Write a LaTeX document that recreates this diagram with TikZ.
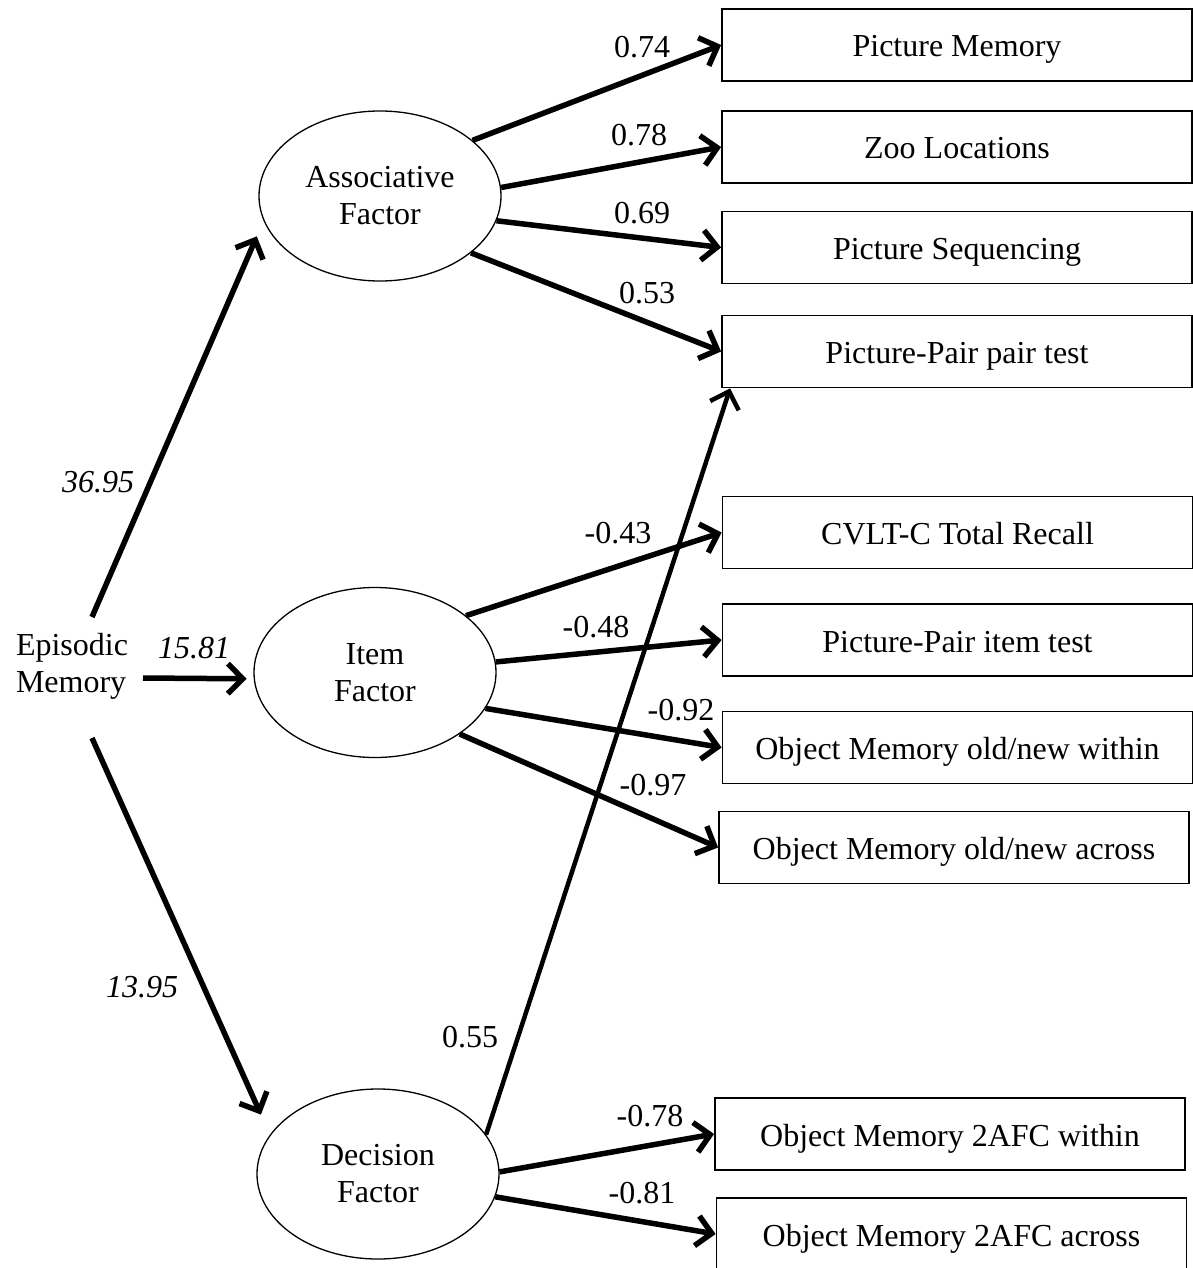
\documentclass[tikz,border=0pt]{standalone}
\usepackage{fontspec}
\setmainfont{Liberation Serif}
\usetikzlibrary{shapes.geometric,arrows.meta}
\begin{document}
\begin{tikzpicture}[x=1pt,y=-1pt,
  fnt/.style={font=\fontsize{32}{37}\selectfont},
  txt/.style={fnt, inner sep=0pt, align=left},
  box/.style={draw, line width=1.8pt, minimum width=470pt, minimum height=72pt, inner sep=0pt, fnt, text height=24pt, text depth=0pt},
  fac/.style={draw, ellipse, line width=1.3pt, minimum width=242pt, minimum height=170pt, inner sep=0pt, align=center, fnt},
  arr/.style={line width=5.5pt, -{Straight Barb[length=15pt,width=30pt]}},
  lab/.style={fnt, inner sep=0pt},
  ilab/.style={inner sep=0pt, font=\fontsize{32}{37}\selectfont\itshape}]
\useasboundingbox (0,0) rectangle (1193,1268);

% observed variables
\node[box] (pm)     at (957,45)     {Picture Memory};
\node[box] (zoo)    at (957,147)    {Zoo Locations};
\node[box] (seq)    at (957,247.5)  {Picture Sequencing};
\node[box] (pppair) at (957,351.5)  {Picture-Pair pair test};
\node[box] (cvlt)   at (957.5,532.5){CVLT-C Total Recall};
\node[box] (ppitem) at (957.5,640)  {Picture-Pair item test};
\node[box] (omw)    at (957.5,747.5){Object Memory old/new within};
\node[box] (oma)    at (954,847.5)  {Object Memory old/new across};
\node[box] (afw)    at (950,1134)   {Object Memory 2AFC within};
\node[box] (afa)    at (951.5,1234) {Object Memory 2AFC across};

% latent factors
\node[fac] (assoc) at (380,196)   {Associative\\Factor};
\node[fac] (item)  at (375,672.5) {Item\\Factor};
\node[fac] (dec)   at (378,1174)  {Decision\\Factor};

% second-order factor
\node[txt] (em) at (72,666) {Episodic\\Memory};

% episodic memory paths
\draw[arr, shorten >=17pt] ([shift={(20pt,49pt)}]em.center) -- (assoc.192);
\draw[arr, shorten >=7pt]  ([shift={(71pt,-12pt)}]em.center) -- (item.183);
\draw[arr, shorten >=22pt] ([shift={(20pt,-72pt)}]em.center) -- (dec.160);
\node[ilab] (l1) at (98,482)  {36.95};
\node[ilab] (l2) at (194,648) {15.81};
\node[ilab] (l3) at (142,987) {13.95};

% associative loadings
\draw[arr] (assoc.31)  -- (pm.west);
\draw[arr] (assoc.4)   -- (zoo.west);
\draw[arr] (assoc.-12) -- (seq.west);
\draw[arr] (assoc.-32) -- (pppair.west);
\node[lab] (a1) at (642,47)  {0.74};
\node[lab] (a2) at (639,135) {0.78};
\node[lab] (a3) at (642,213) {0.69};
\node[lab] (a4) at (647,293) {0.53};

% item loadings
\draw[arr] (item.32)  -- (cvlt.west);
\draw[arr] (item.5)   -- (ppitem.west);
\draw[arr] (item.-18) -- (omw.west);
\draw[arr] (item.-36) -- (oma.west);
\node[lab] (i1) at (618,533) {-0.43};
\node[lab] (i2) at (596,627) {-0.48};
\node[lab] (i3) at (681,710) {-0.92};
\node[lab] (i4) at (653,785) {-0.97};

% decision loadings
\draw[arr, line width=4.5pt] (dec.20) -- ([xshift=9pt]pppair.south west);
\draw[arr] (dec.1)   -- (afw.west);
\draw[arr] (dec.-11) -- (afa.west);
\node[lab] (d1) at (470,1037) {0.55};
\node[lab] (d2) at (650,1116) {-0.78};
\node[lab] (d3) at (642,1193) {-0.81};
\end{tikzpicture}
\end{document}
